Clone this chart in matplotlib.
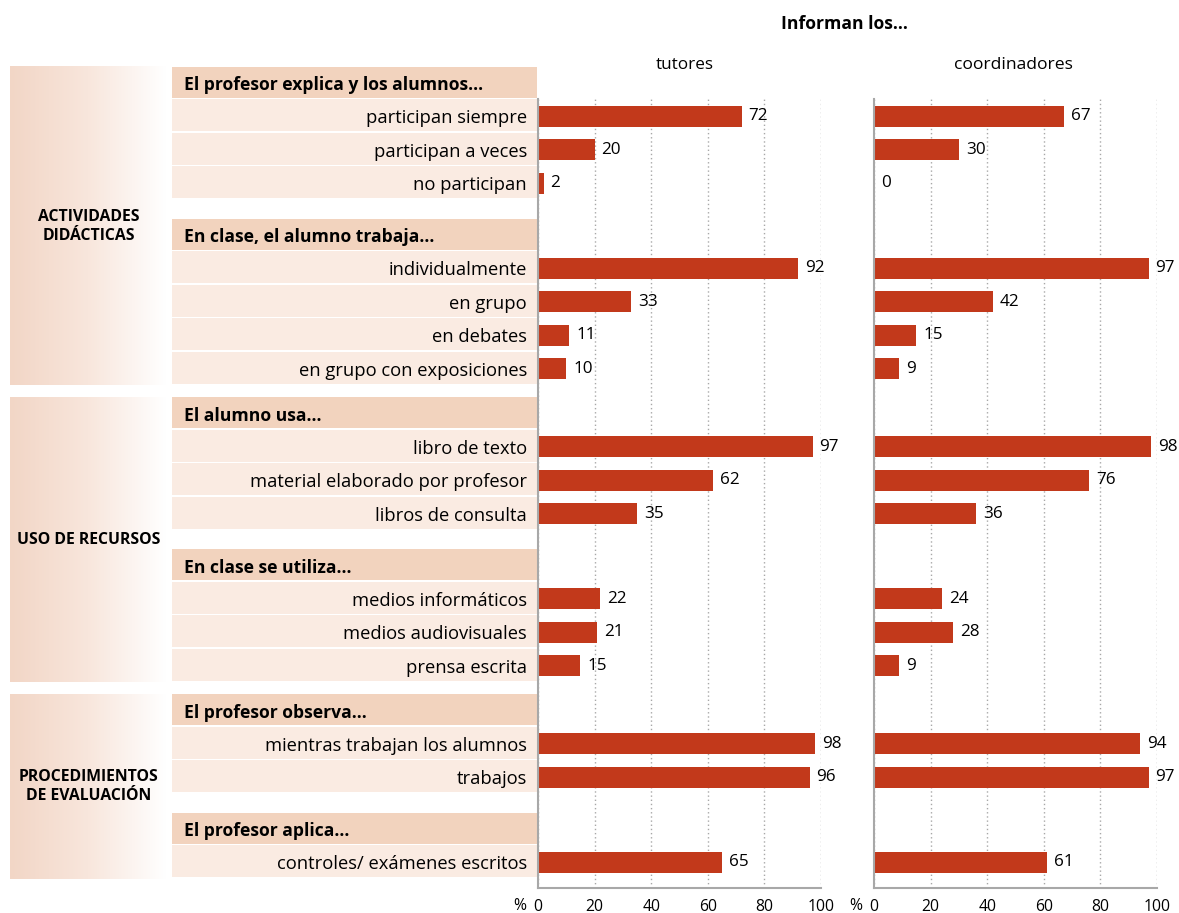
import numpy as np
import matplotlib.pyplot as plt
from matplotlib.patches import Rectangle
from matplotlib.colors import LinearSegmentedColormap

plt.rcParams['font.family'] = ['Open Sans', 'DejaVu Sans']

# === data

groups = ['ACTIVIDADES\nDIDÁCTICAS', 'USO DE RECURSOS', 'PROCEDIMIENTOS\nDE EVALUACIÓN']
headers = ['El profesor explica y los alumnos...',
           'En clase, el alumno trabaja...',
           'El alumno usa...',
           'En clase se utiliza...',
           'El profesor observa...',
           'El profesor aplica...']
header_group = [0, 0, 1, 1, 2, 2]
items = [['participan siempre', 'participan a veces', 'no participan'],
         ['individualmente', 'en grupo', 'en debates', 'en grupo con exposiciones'],
         ['libro de texto', 'material elaborado por profesor', 'libros de consulta'],
         ['medios informáticos', 'medios audiovisuales', 'prensa escrita'],
         ['mientras trabajan los alumnos', 'trabajos'],
         ['controles/ exámenes escritos']]
tutores = [72, 20, 2, 92, 33, 11, 10, 97, 62, 35, 22, 21, 15, 98, 96, 65]
coordinadores = [67, 30, 0, 97, 42, 15, 9, 98, 76, 36, 24, 28, 9, 94, 97, 61]
xticks = [0, 20, 40, 60, 80, 100]

# === colours / layout (figure pixels)
RED = '#C2391B'
HEAD_C = '#F2D3BE'
ITEM_C = '#FAEBE2'
GREY = '#A8A8A8'

W, H = 1179, 913
TOP, HEAD, ROW = 67, 32.5, 33.5
SUBGAP, GROUPGAP = 19, 12
BOX_X0, BOX_X1 = 172, 537
AX_BOTTOM, AX_TOP = 888, 99.5

# compute row positions
y = TOP
head_pos = []
row_pos = []
group_span = []
prev = None
for grp, head, labels in zip(header_group, headers, items):
    if prev is not None:
        y += GROUPGAP if grp != prev else SUBGAP
    if grp != prev:
        group_span.append([y, None])
    head_pos.append(y)
    y += HEAD
    for lab in labels:
        row_pos.append(y + ROW / 2)
        y += ROW
    group_span[-1][1] = y
    prev = grp

fig = plt.figure(figsize=(W / 100, H / 100), dpi=100)
bg = fig.add_axes([0, 0, 1, 1])
bg.set_xlim(0, W)
bg.set_ylim(H, 0)
bg.axis('off')

# left group boxes with gradient
grad_cmap = LinearSegmentedColormap.from_list('g', ['#F2D6C6', '#F8E6DC', '#FFFFFF'])
grad = np.linspace(0, 1, 256).reshape(1, -1)
for name, (g0, g1) in zip(groups, group_span):
    bg.imshow(grad, cmap=grad_cmap, aspect='auto', extent=(10, 166, g1, g0),
              interpolation='bicubic', zorder=1)
    bg.text(89, (g0 + g1) / 2, name, ha='center', va='center', fontsize=11.3,
            fontweight='bold', linespacing=1.25, zorder=3)
bg.set_xlim(0, W)
bg.set_ylim(H, 0)

# header and item boxes
labels_flat = [lab for labels in items for lab in labels]
for top, head in zip(head_pos, headers):
    bg.add_patch(Rectangle((BOX_X0, top), BOX_X1 - BOX_X0, HEAD - 1.5,
                           facecolor=HEAD_C, edgecolor='none', zorder=1))
    bg.text(184, top + HEAD / 2, head, ha='left', va='center_baseline', fontsize=12.6,
            fontweight='bold', zorder=3)
for c, lab in zip(row_pos, labels_flat):
    bg.add_patch(Rectangle((BOX_X0, c - ROW / 2), BOX_X1 - BOX_X0, ROW - 1.5,
                           facecolor=ITEM_C, edgecolor='none', zorder=1))
    bg.text(527, c, lab, ha='right', va='center_baseline', fontsize=13.2, zorder=3)

# titles
bg.text(844, 24, 'Informan los...', ha='center', va='center', fontsize=12.6, fontweight='bold')
bg.text(685, 65, 'tutores', ha='center', va='center', fontsize=12.3)
bg.text(1013, 65, 'coordinadores', ha='center', va='center', fontsize=12.6)


def bar_panel(x0, vals):
    ax = fig.add_axes([x0 / W, (H - AX_BOTTOM) / H, 283 / W, (AX_BOTTOM - AX_TOP) / H])
    ax.patch.set_alpha(0)
    bars = ax.barh(row_pos, vals, height=21, color=RED, zorder=2)
    ax.bar_label(bars, padding=5, fontsize=12.3)
    ax.set_xlim(0, 100)
    ax.set_ylim(AX_BOTTOM, AX_TOP)
    ax.set_xticks(xticks)
    ax.set_yticks([])
    ax.tick_params(axis='x', length=0, pad=8, labelsize=11.3)
    ax.xaxis.grid(True, linestyle=(0, (1, 2)), color=GREY, lw=1, zorder=0)
    for s in ['top', 'right']:
        ax.spines[s].set_visible(False)
    for s in ['left', 'bottom']:
        ax.spines[s].set_color(GREY)
        ax.spines[s].set_linewidth(1.5)
    ax.annotate('%', xy=(0, 0), xycoords=('data', 'axes fraction'),
                xytext=(-12, -18), textcoords='offset pixels',
                ha='right', va='center', fontsize=11.3)
    return ax


bar_panel(538, tutores)
bar_panel(874, coordinadores)

fig.savefig('out.png', dpi=100)
